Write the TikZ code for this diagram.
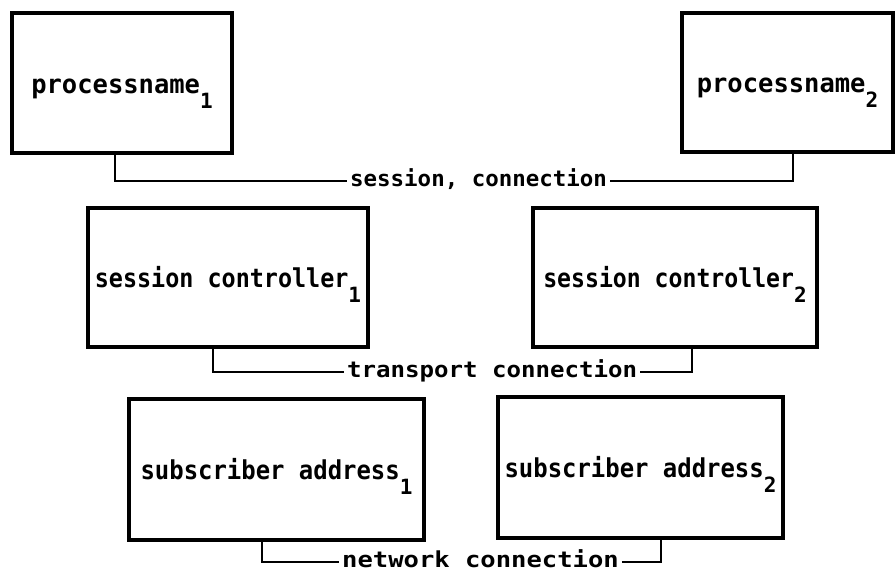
\documentclass[tikz,border=0pt]{standalone}
\usepackage{graphicx}
\usepackage{fontspec}
\newfontfamily\tyfont{DejaVu Sans Mono Bold}
% horizontally squeezed / widened text run
\newcommand\sx[2]{\scalebox{#1}[1]{#2}}
% lowered index digit
\newcommand\ix[1]{\raisebox{-15pt}[0pt][0pt]{\fontsize{21}{21}\selectfont #1}}
\tikzset{
  unitbox/.style={draw, line width=3.8pt, minimum width=#1, inner sep=0pt,
    minimum height=140pt, font=\tyfont\fontsize{26}{26}\selectfont,
    text height=20pt, text depth=0pt},
  linklabel/.style={anchor=west, inner xsep=3pt, inner ysep=0pt,
    font=\tyfont\fontsize{22}{22}\selectfont, text height=10pt, text depth=0pt},
  link/.style={line width=2.8pt}
}
\begin{document}
\begin{tikzpicture}[x=1pt,y=-1pt]
\useasboundingbox (0,0) rectangle (896,573);

% process layer
\node[unitbox=220pt] (p1) at (122,83) {\sx{0.98}{processname}\ix{1}};
\node[unitbox=211pt, minimum height=139pt] (p2) at (787.5,82.5) {\sx{0.98}{processname}\ix{2}};

% session controllers
\node[unitbox=280pt, minimum height=139pt] (sc1) at (228,277.5) {\sx{0.90}{session controller}\ix{1}};
\node[unitbox=284pt, minimum height=139pt] (sc2) at (675,277.5) {\sx{0.89}{session controller}\ix{2}};

% subscriber addresses
\node[unitbox=295pt, minimum height=141pt] (sa1) at (276.5,469.5) {\sx{0.92}{subscriber address}\ix{1}};
\node[unitbox=285pt, minimum height=141pt] (sa2) at (640.5,467.5) {\sx{0.92}{subscriber address}\ix{2}};

% connection labels
\node[linklabel] (sess) at (347,181) {\sx{1.02}{session, connection}};
\node[linklabel] (trans) at (344,372) {\sx{1.095}{transport connection}};
\node[linklabel] (net) at (339,562) {\sx{1.16}{network connection}};

% drop points under the boxes
\coordinate (p1d) at (115,0);
\coordinate (p2d) at (793,0);
\coordinate (sc1d) at (213,0);
\coordinate (sc2d) at (692,0);
\coordinate (sa1d) at (262,0);
\coordinate (sa2d) at (661,0);

% connectors
\draw[link] (p1.south -| p1d) |- (sess.west);
\draw[link] (sess.east) -| (p2.south -| p2d);
\draw[link] (sc1.south -| sc1d) |- (trans.west);
\draw[link] (trans.east) -| (sc2.south -| sc2d);
\draw[link] (sa1.south -| sa1d) |- (net.west);
\draw[link] (net.east) -| (sa2.south -| sa2d);
\end{tikzpicture}
\end{document}
